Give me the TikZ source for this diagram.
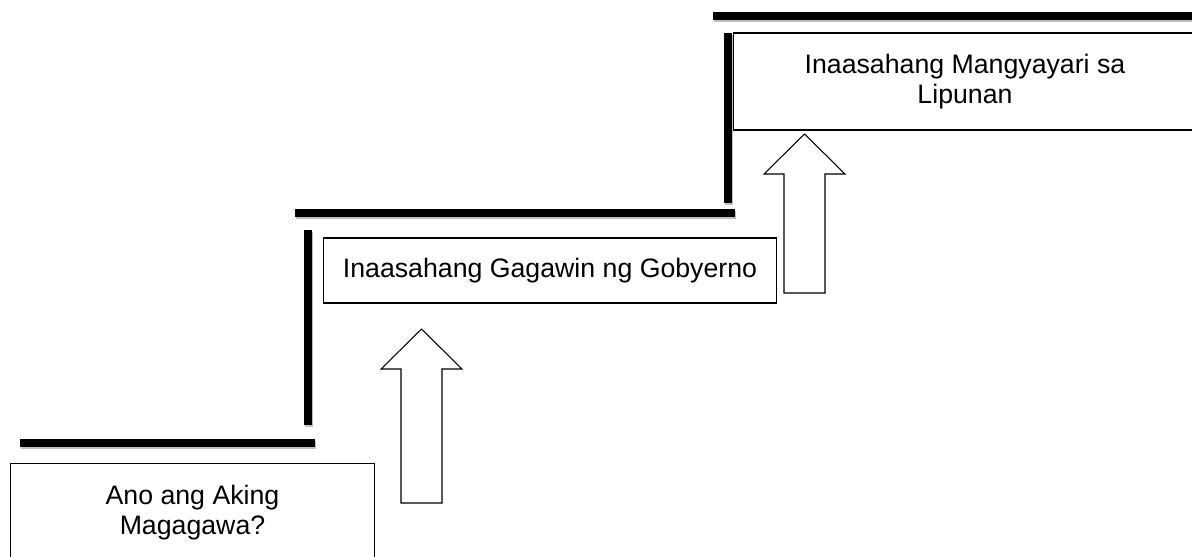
\documentclass[tikz,border=0pt]{standalone}
\usepackage{fontspec}
\setmainfont{Liberation Sans}
\tikzset{
  box/.style={draw, line width=0.6pt, inner sep=0pt, outer sep=0pt, align=center,
    font=\fontsize{15.2}{17}\selectfont},
  bar/.style={line width=4.4pt,
    preaction={draw=black!25, line width=4.4pt, transform canvas={shift={(0.6pt,-1.2pt)}}}},
  blockarrow/.style={draw, line width=0.6pt, fill=white, line join=miter}
}
\begin{document}
\begin{tikzpicture}[x=0.02cm, y=-0.02cm]
\path[use as bounding box] (0,0) rectangle (1192,556);
\clip (0,0) rectangle (1192,556);
% les trois cases
\node[box, minimum width=7.3cm, minimum height=2cm] (aking) at (192.5,513) {Ano ang Aking\\Magagawa?};
\node[box, minimum width=9.08cm, minimum height=1.3cm] (gobyerno) at (550,270.5) {Inaasahang Gagawin ng Gobyerno};
\node[box, minimum width=9.28cm, minimum height=1.94cm] (lipunan) at (965,81.5) {Inaasahang Mangyayari sa\\Lipunan};
% les marches
\coordinate (m1a) at (20,443); \coordinate (m1b) at (315,443);
\coordinate (v1a) at (308,425); \coordinate (v1b) at (308,230);
\coordinate (m2a) at (295,213); \coordinate (m2b) at (735,213);
\coordinate (v2a) at (728,203); \coordinate (v2b) at (728,33);
\coordinate (m3a) at (713,16); \coordinate (m3b) at (1200,16);
\draw[bar] (m1a) -- (m1b); % marche basse
\draw[bar] (v1a) -- (v1b);
\draw[bar] (m2a) -- (m2b); % marche du milieu
\draw[bar] (v2a) -- (v2b);
\draw[bar] (m3a) -- (m3b); % marche haute
% flèches vers le haut
\foreach \ax/\ay/\al in {421/503/134, 804/293/119}
  \draw[blockarrow] (\ax-20,\ay) -- ++(0,-\al) -- ++(-20,0) -- ++(40.5,-40)
    -- ++(40.5,40) -- ++(-20,0) -- ++(0,\al) -- cycle;
\end{tikzpicture}
\end{document}
